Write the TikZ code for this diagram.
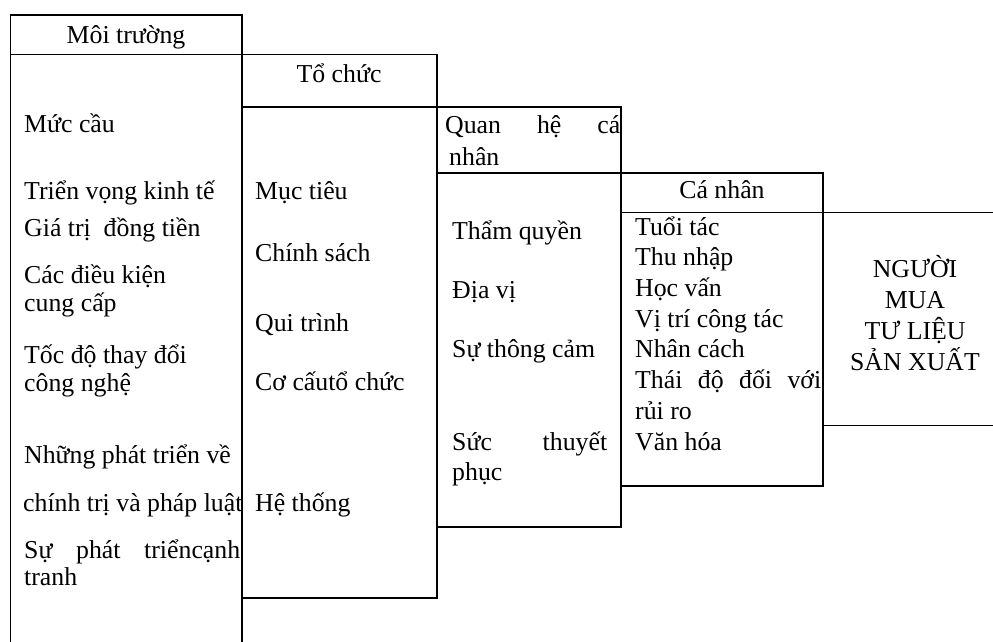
\documentclass[tikz,border=0pt]{standalone}
\usepackage{fontspec}
\setmainfont{Liberation Serif}
\begin{document}
\begin{tikzpicture}[x=1pt,y=-1pt,
  boxline/.style={line width=1.5pt, line join=miter},
  txt/.style={anchor=base west, inner sep=0pt, font=\fontsize{25.8}{30}\selectfont},
  ctr/.style={anchor=base, inner sep=0pt, font=\fontsize{25.8}{30}\selectfont}]
\useasboundingbox (0,0) rectangle (993,642);
% boxes
\draw[boxline] (10.5,642) -- (10.5,15) -- (242,15) -- (242,642);
\draw[boxline] (10.5,54.5) -- (242,54.5);
\draw[boxline] (242,54.5) rectangle (437,598);
\draw[boxline] (242,107) -- (437,107);
\draw[boxline] (437,107) rectangle (621,527);
\draw[boxline] (437,173) -- (621,173);
\draw[boxline] (621,173) rectangle (823,486);
\draw[boxline] (621,212.5) -- (823,212.5);
\draw[boxline] (993,212.5) -- (823,212.5) -- (823,425.5) -- (993,425.5);
% headers
\node[ctr] (h1) at (126,44) {Môi trường};
\node[ctr] (h2) at (339,82) {Tổ chức};
\node[txt] (h3a) at (445,133) {\hbox to 175pt{Quan\hfill hệ\hfill cá}};
\node[txt] (h3b) at (449,165) {nhân};
\node[ctr] (h4) at (722,198) {Cá nhân};
% Moi truong
\node[txt] (m1) at (24,132) {Mức cầu};
\node[txt] (m2) at (24,199) {Triển vọng kinh tế};
\node[txt] (m3) at (24,236) {Giá trị\ \ đồng tiền};
\node[txt] (m4a) at (24,283) {Các điều kiện};
\node[txt] (m4b) at (24,311) {cung cấp};
\node[txt] (m5a) at (24,363) {Tốc độ thay đổi};
\node[txt] (m5b) at (24,391) {công nghệ};
\node[txt] (m6a) at (24,463) {Những phát triển về};
\node[txt] (m6b) at (23,511) {chính trị và pháp luật};
\node[txt] (m7a) at (24,558) {\hbox to 216pt{Sự\hfill phát\hfill triểncạnh}};
\node[txt] (m7b) at (24,585) {tranh};
% To chuc
\node[txt] (t1) at (255,199) {Mục tiêu};
\node[txt] (t2) at (255,261) {Chính sách};
\node[txt] (t3) at (255,331) {Qui trình};
\node[txt] (t4) at (255,390) {Cơ cấutổ chức};
\node[txt] (t5) at (255,511) {Hệ thống};
% Quan he ca nhan
\node[txt] (q1) at (452,239) {Thẩm quyền};
\node[txt] (q2) at (452,298) {Địa vị};
\node[txt] (q3) at (452,357) {Sự thông cảm};
\node[txt] (q4a) at (452,450) {\hbox to 155pt{Sức\hfill thuyết}};
\node[txt] (q4b) at (452,480) {phục};
% Ca nhan
\node[txt] (c1) at (635,235) {Tuổi tác};
\node[txt] (c2) at (635,265.7) {Thu nhập};
\node[txt] (c3) at (635,296.4) {Học vấn};
\node[txt] (c4) at (635,327) {Vị trí công tác};
\node[txt] (c5) at (635,357.7) {Nhân cách};
\node[txt] (c6a) at (635,388.4) {\hbox to 186pt{Thái\hfill độ\hfill đối\hfill với}};
\node[txt] (c6b) at (635,419) {rủi ro};
\node[txt] (c7) at (635,450) {Văn hóa};
% Nguoi mua
\node[ctr] (n1) at (915,277) {NGƯỜI};
\node[ctr] (n2) at (915,308) {MUA};
\node[ctr] (n3) at (915,339) {TƯ LIỆU};
\node[ctr] (n4) at (915,370) {SẢN XUẤT};
\end{tikzpicture}
\end{document}
